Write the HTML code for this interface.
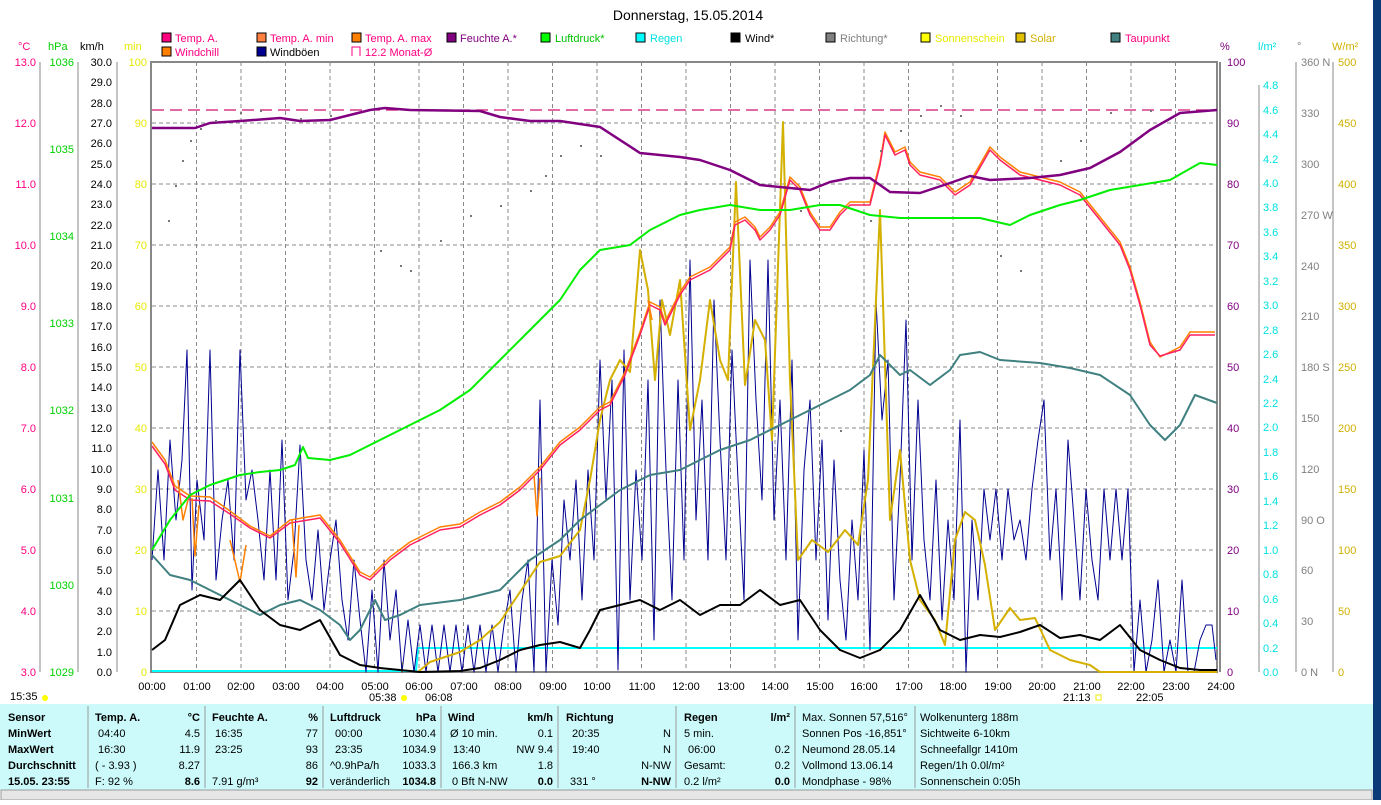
<!DOCTYPE html>
<html><head><meta charset="utf-8"><style>
body{margin:0;width:1381px;height:800px;overflow:hidden;background:#fff;font-family:"Liberation Sans",sans-serif}
svg text{font-family:"Liberation Sans",sans-serif;font-size:11px}
</style></head><body>
<svg width="1381" height="800" viewBox="0 0 1381 800" xmlns="http://www.w3.org/2000/svg">
<rect x="1373" y="0" width="8" height="800" fill="#0a3a78"/>
<text x="688" y="20" font-size="14" style="font-size:14px" text-anchor="middle" fill="#000">Donnerstag, 15.05.2014</text>
<g font-size="11">
<rect x="162" y="33" width="9" height="9" fill="#ff0080" stroke="#000"/><text x="175" y="42" fill="#ff0080">Temp. A.</text>
<rect x="257" y="33" width="9" height="9" fill="#ff8040" stroke="#000"/><text x="270" y="42" fill="#ff0080">Temp. A. min</text>
<rect x="352" y="33" width="9" height="9" fill="#ff8000" stroke="#000"/><text x="365" y="42" fill="#ff0080">Temp. A. max</text>
<rect x="447" y="33" width="9" height="9" fill="#800080" stroke="#000"/><text x="460" y="42" fill="#800080">Feuchte A.*</text>
<rect x="541" y="33" width="9" height="9" fill="#00ff00" stroke="#000"/><text x="555" y="42" fill="#00c000">Luftdruck*</text>
<rect x="636" y="33" width="9" height="9" fill="#00ffff" stroke="#000"/><text x="650" y="42" fill="#00e0e0">Regen</text>
<rect x="731" y="33" width="9" height="9" fill="#000" stroke="#000"/><text x="745" y="42" fill="#000">Wind*</text>
<rect x="826" y="33" width="9" height="9" fill="#808080" stroke="#000"/><text x="840" y="42" fill="#808080">Richtung*</text>
<rect x="921" y="33" width="9" height="9" fill="#ffff00" stroke="#000"/><text x="935" y="42" fill="#e8e800">Sonnenschein</text>
<rect x="1016" y="33" width="9" height="9" fill="#e0c000" stroke="#000"/><text x="1030" y="42" fill="#d0b000">Solar</text>
<rect x="1111" y="33" width="9" height="9" fill="#408080" stroke="#000"/><text x="1125" y="42" fill="#ff0080">Taupunkt</text>
<rect x="162" y="47" width="9" height="9" fill="#ff8000" stroke="#000"/><text x="175" y="56" fill="#ff0080">Windchill</text>
<rect x="257" y="47" width="9" height="9" fill="#000090" stroke="#000"/><text x="270" y="56" fill="#000">Windböen</text>
<path d="M352 56V47h8v9" fill="none" stroke="#ff0080"/><text x="365" y="56" fill="#ff0080">12.2 Monat-Ø</text>
</g>
<text x="18" y="50" fill="#ff0080">°C</text><text x="48" y="50" fill="#00d000">hPa</text><text x="80" y="50" fill="#000">km/h</text><text x="124" y="50" fill="#e8e800">min</text>
<text x="1220" y="50" fill="#800080">%</text><text x="1258" y="50" fill="#00e0e0">l/m²</text><text x="1297" y="50" fill="#808080">°</text><text x="1332" y="50" fill="#d0b000">W/m²</text>
<g stroke="#888" stroke-dasharray="4,3" stroke-width="1">
<path d="M196.5 62V672M241 62V672M285.5 62V672M330 62V672M374.5 62V672M419 62V672M463.5 62V672M508 62V672M552.5 62V672M597 62V672M641.5 62V672M686 62V672M730.5 62V672M775 62V672M819.5 62V672M864 62V672M908.5 62V672M953 62V672M997.5 62V672M1042 62V672M1086.5 62V672M1131 62V672M1175.5 62V672"/>
<path d="M152 123H1217M152 184H1217M152 245H1217M152 306H1217M152 367H1217M152 428H1217M152 489H1217M152 550H1217M152 611H1217"/>
</g>
<rect x="151" y="62" width="1066" height="610" fill="none" stroke="#888" stroke-width="2"/>
<line x1="1220" y1="62" x2="1220" y2="672" stroke="#888" stroke-width="2"/>
<line x1="152" y1="110" x2="1217" y2="110" stroke="#d01070" stroke-dasharray="12,6" stroke-width="1.2"/>
<g stroke="#888"><line x1="40" y1="62" x2="40" y2="672"/><line x1="78" y1="62" x2="78" y2="672"/><line x1="117" y1="62" x2="117" y2="672"/>
<line x1="1259" y1="85" x2="1259" y2="672"/><line x1="1296" y1="62" x2="1296" y2="672"/><line x1="1333" y1="62" x2="1333" y2="672"/></g>
<g font-size="11" fill="#ff0080" text-anchor="end">
<text x="36" y="66">13.0</text><text x="36" y="127">12.0</text><text x="36" y="188">11.0</text><text x="36" y="249">10.0</text><text x="36" y="310">9.0</text><text x="36" y="371">8.0</text><text x="36" y="432">7.0</text><text x="36" y="493">6.0</text><text x="36" y="554">5.0</text><text x="36" y="615">4.0</text><text x="36" y="676">3.0</text></g>
<g font-size="11" fill="#00d000" text-anchor="end">
<text x="74" y="66">1036</text><text x="74" y="153">1035</text><text x="74" y="240">1034</text><text x="74" y="327">1033</text><text x="74" y="414">1032</text><text x="74" y="502">1031</text><text x="74" y="589">1030</text><text x="74" y="676">1029</text></g>
<g font-size="11" fill="#000" text-anchor="end">
<text x="112" y="66">30.0</text><text x="112" y="86">29.0</text><text x="112" y="107">28.0</text><text x="112" y="127">27.0</text><text x="112" y="147">26.0</text><text x="112" y="168">25.0</text><text x="112" y="188">24.0</text><text x="112" y="208">23.0</text><text x="112" y="229">22.0</text><text x="112" y="249">21.0</text><text x="112" y="269">20.0</text><text x="112" y="290">19.0</text><text x="112" y="310">18.0</text><text x="112" y="330">17.0</text><text x="112" y="351">16.0</text><text x="112" y="371">15.0</text><text x="112" y="391">14.0</text><text x="112" y="412">13.0</text><text x="112" y="432">12.0</text><text x="112" y="452">11.0</text><text x="112" y="473">10.0</text><text x="112" y="493">9.0</text><text x="112" y="513">8.0</text><text x="112" y="534">7.0</text><text x="112" y="554">6.0</text><text x="112" y="574">5.0</text><text x="112" y="595">4.0</text><text x="112" y="615">3.0</text><text x="112" y="635">2.0</text><text x="112" y="656">1.0</text><text x="112" y="676">0.0</text></g>
<g font-size="11" fill="#e8e800" text-anchor="end">
<text x="147" y="66">100</text><text x="147" y="127">90</text><text x="147" y="188">80</text><text x="147" y="249">70</text><text x="147" y="310">60</text><text x="147" y="371">50</text><text x="147" y="432">40</text><text x="147" y="493">30</text><text x="147" y="554">20</text><text x="147" y="615">10</text><text x="147" y="676">0</text></g>
<g font-size="11" fill="#800080">
<text x="1227" y="66">100</text><text x="1227" y="127">90</text><text x="1227" y="188">80</text><text x="1227" y="249">70</text><text x="1227" y="310">60</text><text x="1227" y="371">50</text><text x="1227" y="432">40</text><text x="1227" y="493">30</text><text x="1227" y="554">20</text><text x="1227" y="615">10</text><text x="1227" y="676">0</text></g>
<g font-size="11" fill="#00e0e0">
<text x="1263" y="89">4.8</text><text x="1263" y="114">4.6</text><text x="1263" y="138">4.4</text><text x="1263" y="163">4.2</text><text x="1263" y="187">4.0</text><text x="1263" y="211">3.8</text><text x="1263" y="236">3.6</text><text x="1263" y="260">3.4</text><text x="1263" y="285">3.2</text><text x="1263" y="309">3.0</text><text x="1263" y="334">2.8</text><text x="1263" y="358">2.6</text><text x="1263" y="383">2.4</text><text x="1263" y="407">2.2</text><text x="1263" y="431">2.0</text><text x="1263" y="456">1.8</text><text x="1263" y="480">1.6</text><text x="1263" y="505">1.4</text><text x="1263" y="529">1.2</text><text x="1263" y="554">1.0</text><text x="1263" y="578">0.8</text><text x="1263" y="603">0.6</text><text x="1263" y="627">0.4</text><text x="1263" y="652">0.2</text><text x="1263" y="676">0.0</text></g>
<g font-size="11" fill="#808080">
<text x="1301" y="66">360 N</text><text x="1301" y="117">330</text><text x="1301" y="168">300</text><text x="1301" y="219">270 W</text><text x="1301" y="270">240</text><text x="1301" y="320">210</text><text x="1301" y="371">180 S</text><text x="1301" y="422">150</text><text x="1301" y="473">120</text><text x="1301" y="524">90  O</text><text x="1301" y="574">60</text><text x="1301" y="625">30</text><text x="1301" y="676">0    N</text></g>
<g font-size="11" fill="#d0b000">
<text x="1338" y="66">500</text><text x="1338" y="127">450</text><text x="1338" y="188">400</text><text x="1338" y="249">350</text><text x="1338" y="310">300</text><text x="1338" y="371">250</text><text x="1338" y="432">200</text><text x="1338" y="493">150</text><text x="1338" y="554">100</text><text x="1338" y="615">50</text><text x="1338" y="676">0</text></g>
<g font-size="11" fill="#000" text-anchor="middle">
<text x="152" y="690">00:00</text><text x="197" y="690">01:00</text><text x="241" y="690">02:00</text><text x="286" y="690">03:00</text><text x="330" y="690">04:00</text><text x="375" y="690">05:00</text><text x="419" y="690">06:00</text><text x="464" y="690">07:00</text><text x="508" y="690">08:00</text><text x="553" y="690">09:00</text><text x="597" y="690">10:00</text><text x="642" y="690">11:00</text><text x="686" y="690">12:00</text><text x="731" y="690">13:00</text><text x="775" y="690">14:00</text><text x="820" y="690">15:00</text><text x="864" y="690">16:00</text><text x="909" y="690">17:00</text><text x="953" y="690">18:00</text><text x="998" y="690">19:00</text><text x="1042" y="690">20:00</text><text x="1087" y="690">21:00</text><text x="1131" y="690">22:00</text><text x="1176" y="690">23:00</text><text x="1221" y="690">24:00</text>
</g>
<g font-size="11" fill="#000"><text x="10" y="700">15:35</text><circle cx="45" cy="698" r="3" fill="#ff0"/><text x="369" y="701">05:38</text><circle cx="404" cy="698" r="3" fill="#ff0"/><text x="425" y="701">06:08</text><text x="1063" y="701">21:13</text><rect x="1096" y="695" width="5" height="5" fill="none" stroke="#ee0"/><text x="1136" y="701">22:05</text></g>
<g fill="none" stroke-linejoin="round">
<polyline stroke="#00ffff" stroke-width="2" points="152,671 416,671 418,648 1217,648"/>
<polyline stroke="#e8e800" stroke-width="2" points="402,662 402,672"/>
<polyline stroke="#000090" stroke-width="1" points="152,560 158,470 164,560 170,440 176,520 182,460 187,350 192,590 197,480 204,540 210,350 216,580 222,520 228,480 234,560 240,350 246,500 252,470 258,520 264,580 270,470 276,580 282,440 288,600 294,550 300,445 306,560 312,600 318,530 324,610 330,560 336,520 342,600 348,640 354,560 360,620 366,672 372,590 378,672 384,560 390,640 396,590 402,672 408,620 414,672 420,625 426,672 432,625 438,672 444,625 450,672 456,625 462,672 468,625 474,672 480,625 486,672 492,625 498,672 504,625 510,590 516,672 522,600 528,560 534,672 540,400 546,672 552,560 558,625 564,500 570,560 576,480 582,600 588,470 594,560 600,360 606,500 612,380 618,670 624,350 630,600 636,470 642,560 648,380 654,640 660,300 666,470 672,600 678,380 684,560 690,260 696,520 702,400 708,560 714,300 720,440 726,560 732,350 738,480 744,600 750,260 756,400 762,500 768,260 774,520 780,400 786,560 792,360 798,640 804,470 810,400 816,560 822,440 828,620 834,460 840,580 846,640 852,520 858,600 864,450 870,650 876,300 882,420 888,360 894,600 900,480 906,320 912,560 918,400 924,540 930,600 936,480 942,620 948,520 954,600 960,420 966,672 972,520 978,600 984,489 990,540 996,489 1002,560 1008,489 1014,540 1020,520 1026,560 1032,489 1038,440 1044,400 1050,560 1056,489 1062,600 1068,440 1074,520 1080,600 1086,489 1092,560 1098,600 1104,489 1110,560 1116,489 1122,560 1128,489 1134,672 1140,600 1146,672 1152,640 1158,580 1164,672 1170,640 1176,672 1182,580 1188,672 1194,672 1200,640 1206,625 1212,625 1216,660"/>
<polyline stroke="#d4b000" stroke-width="2" points="418,672 430,662 460,652 480,640 500,622 520,592 540,562 560,556 580,530 590,480 600,420 610,380 620,360 630,372 640,250 648,290 655,380 662,300 670,335 680,280 690,430 700,380 710,300 720,360 728,380 736,182 745,385 755,320 765,340 772,440 783,122 790,380 798,560 812,540 828,552 845,530 858,545 868,480 880,210 890,520 900,450 910,560 920,600 935,620 945,645 955,540 965,512 975,520 985,565 995,630 1010,608 1020,620 1035,618 1050,650 1070,660 1090,665 1100,672 1217,672"/>
<polyline stroke="#ff8000" stroke-width="1.5" points="152,442 165,460 175,486 190,496 210,497 230,511 250,526 270,536 290,520 320,515 340,540 360,572 370,577 390,557 410,542 440,527 460,524 480,512 500,502 520,487 540,467 560,442 580,427 600,407 610,402 625,372 640,332 650,302 660,307 665,322 680,292 690,277 700,272 710,267 720,257 730,247 735,222 745,217 755,227 760,237 770,227 780,212 790,177 800,187 810,212 820,227 830,227 840,212 850,202 870,202 880,162 885,132 895,152 905,147 910,162 920,172 940,177 955,192 970,182 990,147 1000,157 1020,172 1040,177 1060,182 1080,192 1100,217 1120,242 1130,267 1140,302 1150,342 1160,357 1180,347 1190,332 1215,332"/>
<polyline stroke="#ff2060" stroke-width="1.5" points="152,446 165,464 175,490 190,500 210,501 230,514 250,528 270,538 290,523 320,518 340,543 360,575 370,580 390,560 410,545 440,530 460,527 480,515 500,505 520,490 540,470 560,445 580,430 600,410 610,405 625,375 640,335 650,305 660,310 665,325 680,295 690,280 700,275 710,270 720,260 730,250 735,225 745,220 755,230 760,240 770,230 780,215 790,180 800,190 810,215 820,230 830,230 840,215 850,205 870,205 880,165 885,135 895,155 905,150 910,165 920,175 940,180 955,195 970,185 990,150 1000,160 1020,175 1040,180 1060,185 1080,195 1100,220 1120,245 1130,270 1140,305 1150,345 1160,356 1180,350 1190,335 1215,335"/>
<path stroke="#ff8000" stroke-width="1.5" d="M178 480L183 520L188 500M192 498L195 556L199 505M230 540L240 582L246 545M292 520L296 577L299 525M534 475L537 516L540 478M648 300L652 320"/>
<polyline stroke="#800080" stroke-width="2.5" points="152,128 195,128 210,123 240,121 280,118 300,121 330,120 350,115 370,110 385,108 410,110 480,111 500,117 530,121 560,121 600,127 640,153 680,157 700,160 730,170 760,185 790,188 810,190 830,182 850,178 870,178 890,192 920,193 950,183 970,176 990,180 1030,178 1060,175 1090,168 1120,152 1150,130 1180,113 1217,110"/>
<polyline stroke="#00ee00" stroke-width="2" points="152,550 170,520 190,495 210,485 240,475 260,472 280,470 295,465 303,447 308,458 330,460 350,455 380,440 410,425 440,410 470,390 500,360 530,330 560,300 580,270 600,250 630,245 650,230 680,215 700,210 730,205 760,210 790,210 820,205 840,205 870,215 900,218 940,218 980,218 1010,225 1030,215 1060,205 1080,200 1110,190 1140,185 1170,180 1200,163 1217,165"/>
<polyline stroke="#408080" stroke-width="2" points="152,555 170,575 190,580 210,590 240,605 260,615 280,605 300,600 320,610 340,625 350,640 360,630 375,600 385,620 400,615 420,605 460,600 500,590 530,560 560,540 580,520 600,505 620,490 650,475 680,470 700,460 720,450 750,440 780,425 800,415 820,405 850,390 870,375 880,355 900,375 910,370 930,385 950,370 960,355 980,352 1000,360 1040,363 1070,368 1100,375 1130,395 1150,425 1165,440 1180,425 1195,395 1217,403"/>
<polyline stroke="#000" stroke-width="2" points="152,650 165,640 180,605 200,595 220,600 240,580 260,610 280,625 300,630 320,620 340,655 360,665 380,668 400,670 420,672 460,671 480,668 500,660 520,650 540,645 560,642 580,648 590,630 600,610 620,605 640,600 660,610 680,600 700,615 720,605 740,605 760,590 780,605 800,600 820,630 840,650 860,658 880,650 900,630 920,595 940,630 960,640 980,635 1000,637 1020,632 1040,625 1060,638 1080,635 1100,640 1120,625 1140,650 1160,660 1180,668 1200,670 1217,670"/>
</g>
<g fill="#777">
<rect x="168" y="220" width="2" height="2"/><rect x="175" y="185" width="2" height="2"/><rect x="182" y="160" width="2" height="2"/><rect x="190" y="140" width="2" height="2"/><rect x="200" y="128" width="2" height="2"/><rect x="215" y="120" width="2" height="2"/><rect x="240" y="112" width="2" height="2"/><rect x="260" y="110" width="2" height="2"/><rect x="300" y="118" width="2" height="2"/><rect x="330" y="115" width="2" height="2"/><rect x="380" y="250" width="2" height="2"/><rect x="400" y="265" width="2" height="2"/><rect x="410" y="270" width="2" height="2"/><rect x="440" y="240" width="2" height="2"/><rect x="470" y="215" width="2" height="2"/><rect x="500" y="205" width="2" height="2"/><rect x="530" y="190" width="2" height="2"/><rect x="545" y="175" width="2" height="2"/><rect x="560" y="155" width="2" height="2"/><rect x="580" y="145" width="2" height="2"/><rect x="600" y="155" width="2" height="2"/><rect x="800" y="210" width="2" height="2"/><rect x="840" y="430" width="2" height="2"/><rect x="870" y="220" width="2" height="2"/><rect x="880" y="150" width="2" height="2"/><rect x="900" y="130" width="2" height="2"/><rect x="920" y="115" width="2" height="2"/><rect x="940" y="105" width="2" height="2"/><rect x="960" y="115" width="2" height="2"/><rect x="1000" y="255" width="2" height="2"/><rect x="1020" y="270" width="2" height="2"/><rect x="1060" y="160" width="2" height="2"/><rect x="1080" y="140" width="2" height="2"/><rect x="1110" y="112" width="2" height="2"/><rect x="1150" y="110" width="2" height="2"/>
</g>
<rect x="0" y="704" width="1373" height="86" fill="#ccfafa"/>
<rect x="1" y="790" width="1371" height="10" fill="#e6e6e6" stroke="#999"/>
<g stroke="#999"><line x1="88" y1="706" x2="88" y2="788"/><line x1="205" y1="706" x2="205" y2="788"/><line x1="323" y1="706" x2="323" y2="788"/><line x1="441" y1="706" x2="441" y2="788"/><line x1="558" y1="706" x2="558" y2="788"/><line x1="676" y1="706" x2="676" y2="788"/><line x1="795" y1="706" x2="795" y2="788"/><line x1="915" y1="706" x2="915" y2="788"/></g>
<g font-size="11" fill="#000">
<g font-weight="bold"><text x="8" y="721">Sensor</text><text x="8" y="737">MinWert</text><text x="8" y="753">MaxWert</text><text x="8" y="769">Durchschnitt</text><text x="8" y="785">15.05. 23:55</text>
<text x="95" y="721">Temp. A.</text><text x="212" y="721">Feuchte A.</text><text x="330" y="721">Luftdruck</text><text x="448" y="721">Wind</text><text x="566" y="721">Richtung</text><text x="684" y="721">Regen</text></g>
<g text-anchor="end" font-weight="bold"><text x="200" y="721">°C</text><text x="318" y="721">%</text><text x="436" y="721">hPa</text><text x="553" y="721">km/h</text><text x="790" y="721">l/m²</text>
<text x="200" y="785">8.6</text><text x="318" y="785">92</text><text x="436" y="785">1034.8</text><text x="553" y="785">0.0</text><text x="671" y="785">N-NW</text><text x="790" y="785">0.0</text></g>
<text x="98" y="737">04:40</text><text x="98" y="753">16:30</text><text x="95" y="769">( - 3.93 )</text><text x="95" y="785">F: 92 %</text>
<text x="215" y="737">16:35</text><text x="215" y="753">23:25</text><text x="212" y="785">7.91 g/m³</text>
<text x="335" y="737">00:00</text><text x="335" y="753">23:35</text><text x="330" y="769">^0.9hPa/h</text><text x="330" y="785">veränderlich</text>
<text x="450" y="737">Ø 10 min.</text><text x="453" y="753">13:40</text><text x="452" y="769">166.3 km</text><text x="452" y="785">0 Bft N-NW</text>
<text x="572" y="737">20:35</text><text x="572" y="753">19:40</text><text x="570" y="785">331 °</text>
<text x="684" y="737">5 min.</text><text x="688" y="753">06:00</text><text x="684" y="769">Gesamt:</text><text x="684" y="785">0.2 l/m²</text>
<g text-anchor="end"><text x="200" y="737">4.5</text><text x="200" y="753">11.9</text><text x="200" y="769">8.27</text>
<text x="318" y="737">77</text><text x="318" y="753">93</text><text x="318" y="769">86</text>
<text x="436" y="737">1030.4</text><text x="436" y="753">1034.9</text><text x="436" y="769">1033.3</text>
<text x="553" y="737">0.1</text><text x="553" y="753">NW 9.4</text><text x="553" y="769">1.8</text>
<text x="671" y="737">N</text><text x="671" y="753">N</text><text x="671" y="769">N-NW</text>
<text x="790" y="753">0.2</text><text x="790" y="769">0.2</text></g>
<text x="802" y="721">Max. Sonnen 57,516°</text><text x="802" y="737">Sonnen Pos  -16,851°</text><text x="802" y="753">Neumond     28.05.14</text><text x="802" y="769">Vollmond     13.06.14</text><text x="802" y="785">Mondphase        - 98%</text>
<text x="920" y="721">Wolkenunterg   188m</text><text x="920" y="737">Sichtweite      6-10km</text><text x="920" y="753">Schneefallgr   1410m</text><text x="920" y="769">Regen/1h       0.0l/m²</text><text x="920" y="785">Sonnenschein  0:05h</text>
</g>
</svg>
</body></html>
